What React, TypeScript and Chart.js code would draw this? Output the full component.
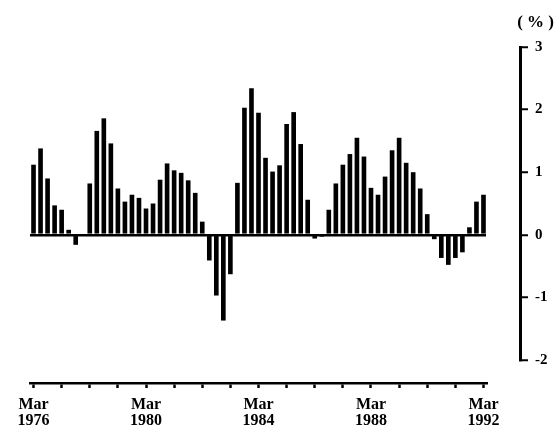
import { useEffect, useRef } from 'react';
import { Chart, registerables } from 'chart.js';

Chart.register(...registerables);

const quarterMonths = ['Mar', 'Jun', 'Sep', 'Dec'];
const startYear = 1976;
const endYear = 1992;
const labeledYears = [1976, 1980, 1984, 1988, 1992];
const unitLabel = '( % )';
const yMin = -2;
const yMax = 3;

// Quarterly change (%), Mar 1976 .. Mar 1992
const changePct = [
  1.12, 1.38, 0.9, 0.47, 0.4, 0.08, -0.16, 0.0,
  0.82, 1.66, 1.86, 1.46, 0.74, 0.53, 0.64, 0.59,
  0.42, 0.5, 0.88, 1.14, 1.03, 0.99, 0.87, 0.67,
  0.21, -0.41, -0.97, -1.37, -0.63, 0.83, 2.03, 2.34,
  1.95, 1.23, 1.01, 1.11, 1.77, 1.96, 1.45, 0.56,
  -0.06, -0.03, 0.4, 0.82, 1.12, 1.29, 1.55, 1.25,
  0.75, 0.64, 0.93, 1.35, 1.55, 1.15, 1.0, 0.74,
  0.33, -0.07, -0.37, -0.48, -0.37, -0.28, 0.12, 0.53,
  0.64,
];

const quarterLabels: string[] = [];
for (let y = startYear; y <= endYear; y++) {
  for (const m of quarterMonths) {
    if (y === endYear && m !== 'Mar') break;
    quarterLabels.push(`${m} ${y}`);
  }
}

const FONT = "'Liberation Serif', 'DejaVu Serif', serif";
const TRANSPARENT = 'rgba(0,0,0,0)';

export default function App() {
  const canvasRef = useRef<HTMLCanvasElement | null>(null);

  useEffect(() => {
    if (!canvasRef.current) return;
    const chart = new Chart(canvasRef.current, {
      type: 'bar',
      data: {
        labels: quarterLabels,
        datasets: [
          {
            data: changePct,
            backgroundColor: '#000',
            borderWidth: 0,
            barPercentage: 0.66,
            categoryPercentage: 1,
            xAxisID: 'x',
            yAxisID: 'y',
          },
        ],
      },
      options: {
        animation: false,
        responsive: false,
        layout: { padding: { left: 30, right: 3, top: 0, bottom: 0 } },
        plugins: {
          legend: { display: false },
          tooltip: { enabled: false },
          title: {
            display: true,
            text: unitLabel,
            align: 'end',
            color: '#000',
            font: { family: FONT, size: 17, weight: 'bold', lineHeight: 1.2 },
            padding: { top: 12, bottom: 14.6 },
          },
        },
        scales: {
          x: {
            type: 'category',
            position: 'bottom',
            weight: 1,
            offset: true,
            grid: {
              offset: false,
              drawOnChartArea: false,
              drawTicks: true,
              tickLength: 5,
              tickWidth: 2.5,
              tickColor: (ctx: any) =>
                ctx.index !== undefined && ctx.index % 4 === 0 ? '#000' : TRANSPARENT,
            },
            border: { display: true, color: '#000', width: 2.5 },
            ticks: {
              autoSkip: false,
              maxRotation: 0,
              minRotation: 0,
              padding: 9,
              color: '#000',
              font: { family: FONT, size: 16, weight: 'bold', lineHeight: '16px' },
              callback: (_v: any, index: number) => {
                const [m, y] = quarterLabels[index].split(' ');
                return m === 'Mar' && labeledYears.includes(Number(y)) ? [m, y] : '';
              },
            },
            afterFit: (s: any) => {
              s.height = 44;
            },
          },
          xGap: {
            type: 'category',
            axis: 'x',
            position: 'bottom',
            weight: 0,
            grid: { display: false },
            border: { display: false },
            ticks: { display: false },
            afterFit: (s: any) => {
              s.height = 23;
            },
          },
          y: {
            type: 'linear',
            position: 'right',
            weight: 1,
            min: yMin,
            max: yMax,
            grid: {
              drawOnChartArea: true,
              color: (ctx: any) => (ctx.tick && ctx.tick.value === 0 ? '#000' : TRANSPARENT),
              lineWidth: 2.5,
              tickLength: 8,
              tickWidth: 2,
              tickColor: '#000',
            },
            border: { display: true, color: '#000', width: 3 },
            ticks: {
              stepSize: 1,
              padding: 7,
              color: '#000',
              font: { family: FONT, size: 15, weight: 'bold' },
            },
            afterFit: (s: any) => {
              s.width = 34;
            },
          },
          yGap: {
            type: 'linear',
            axis: 'y',
            position: 'right',
            weight: 0,
            grid: { display: false },
            border: { display: false },
            ticks: { display: false },
            afterFit: (s: any) => {
              s.width = 33;
            },
          },
        },
      } as any,
    });
    return () => chart.destroy();
  }, []);

  return (
    <div style={{ position: 'absolute', left: 0, top: 0, width: 557, height: 427, background: '#fff' }}>
      <canvas ref={canvasRef} width={557} height={427} style={{ width: 557, height: 427 }} />
    </div>
  );
}
